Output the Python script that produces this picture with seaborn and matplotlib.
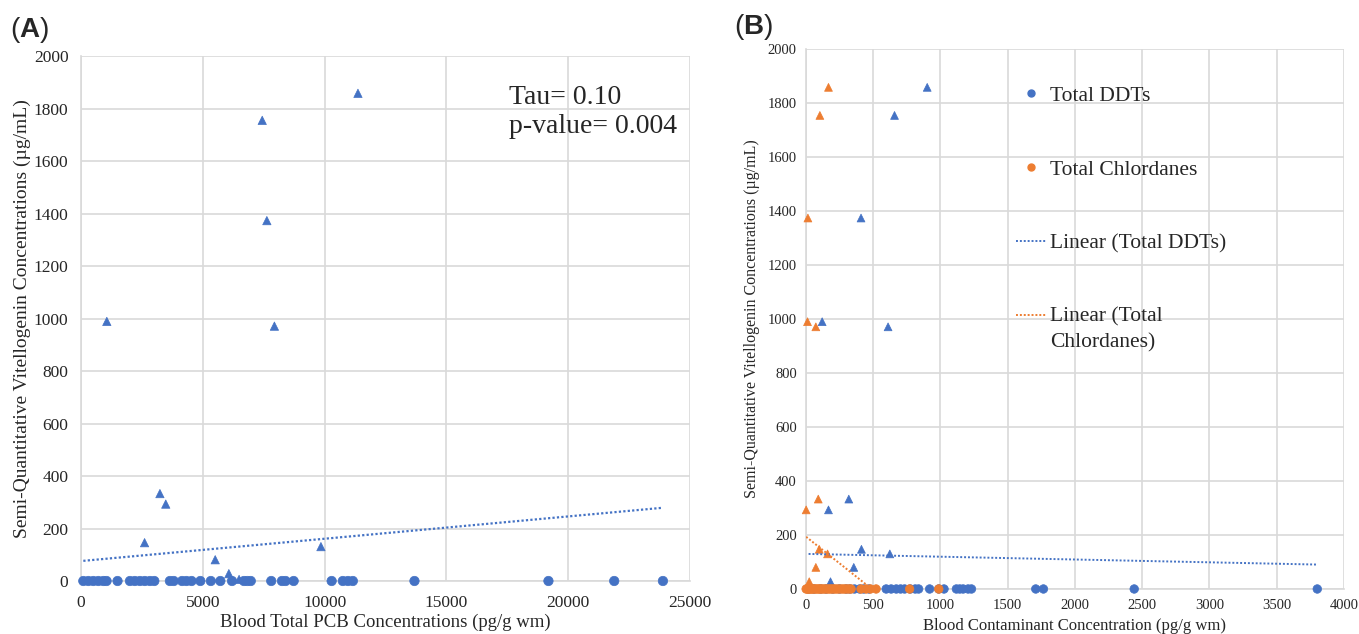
import matplotlib

matplotlib.use("Agg")

import matplotlib.pyplot as plt
import pandas as pd
import seaborn as sns
from matplotlib.legend_handler import HandlerLine2D
from matplotlib.lines import Line2D

# Panel A: blood total PCB vs semi-quantitative vitellogenin
pcb_detect_x = [1060, 2610, 3240, 3480, 5510, 6070, 6490, 7440, 7630, 7940, 9850, 11370]
pcb_detect_y = [989, 146, 333, 293, 81, 28, 6, 1755, 1373, 971, 131, 1858]
pcb_zero_x = [95, 300, 505, 710, 915, 1050, 1500, 2010, 2210, 2420, 2620, 2830,
              3010, 3650, 3810, 4150, 4330, 4540, 4900, 5330, 5720, 6200, 6690,
              6830, 6970, 7810, 8250, 8400, 8730, 10290, 10750, 10960, 11160,
              13690, 19190, 21890, 23890]
pcb_trend = [76, 0.0085]  # intercept, slope (Excel linear trendline)

# Panel B: DDTs and chlordanes
vtg_detect_y = [1858, 1754, 1374, 990, 971, 333, 293, 147, 130, 80, 27]
ddt_detect_x = [902, 659, 410, 121, 611, 319, 168, 413, 624, 356, 183]
chl_detect_x = [168, 104, 15, 12, 74, 92, 2, 99, 161, 74, 25]
ddt_zero_x = [20, 60, 110, 150, 200, 250, 300, 327, 361, 400, 430, 470, 597, 634,
              672, 704, 734, 776, 813, 838, 920, 988, 1027, 1119, 1144, 1169, 1206,
              1231, 1709, 1766, 2441, 3802]
chl_zero_x = [2, 10, 20, 30, 40, 50, 62, 75, 88, 100, 112, 125, 140, 155, 170, 185,
              200, 215, 232, 250, 268, 285, 300, 318, 336, 410, 448, 480, 522, 771, 988]
ddt_trend = [130, -0.0104]
chl_trend = [194, -0.396]

BLUE = "#4472C4"
ORANGE = "#ED7D31"
GRID = "#D9D9D9"
SERIF = ["Liberation Serif", "DejaVu Serif"]


class FirstLineHandler(HandlerLine2D):
    """Put the legend line next to the first line of a two-line label."""

    def create_artists(self, legend, orig_handle, xdescent, ydescent, width,
                       height, fontsize, trans):
        artists = super().create_artists(legend, orig_handle, xdescent, ydescent,
                                         width, height, fontsize, trans)
        for art in artists:
            art.set_ydata([y + 0.68 * fontsize for y in art.get_ydata()])
        return artists


def points(detect_x, detect_y, zero_x):
    return pd.DataFrame({
        "x": list(detect_x) + list(zero_x),
        "y": list(detect_y) + [0] * len(zero_x),
        "kind": ["detected"] * len(detect_x) + ["zero"] * len(zero_x),
    })


def trend(coef, xs):
    lo, hi = min(xs), max(xs)
    return pd.DataFrame({"x": [lo, hi], "y": [coef[0] + coef[1] * lo, coef[0] + coef[1] * hi]})


def style_axes(ax, tick_size, xpad, ypad):
    for side in ["top", "right"]:
        ax.spines[side].set_visible(False)
    for side in ["left", "bottom"]:
        ax.spines[side].set_color(GRID)
        ax.spines[side].set_linewidth(1.2)
    ax.grid(True, color=GRID, linewidth=1.2)
    ax.tick_params(length=0, labelsize=tick_size)
    ax.tick_params(axis="x", pad=xpad)
    ax.tick_params(axis="y", pad=ypad)
    for lab in ax.get_xticklabels() + ax.get_yticklabels():
        lab.set_family(SERIF)


def main() -> None:
    sns.set_style("white")
    plt.rcParams["font.family"] = SERIF
    plt.rcParams["mathtext.fontset"] = "custom"
    plt.rcParams["mathtext.rm"] = "Liberation Sans"
    plt.rcParams["mathtext.bf"] = "Liberation Sans:bold"

    fig = plt.figure(figsize=(13.59, 6.34), dpi=100)
    ax_a = fig.add_axes([0.0596, 0.0836, 0.4481, 0.828])
    ax_b = fig.add_axes([0.593, 0.071, 0.3959, 0.8517])
    markers = {"detected": "^", "zero": "o"}
    sizes = {"detected": 36, "zero": 46}

    # ----- Panel A -----
    df_a = points(pcb_detect_x, pcb_detect_y, pcb_zero_x)
    sns.scatterplot(data=df_a, x="x", y="y", style="kind", markers=markers,
                    size="kind", sizes=sizes, color=BLUE, edgecolor=BLUE,
                    linewidth=0.5, legend=False, ax=ax_a, clip_on=False, zorder=3)
    tr_a = trend(pcb_trend, df_a["x"])
    sns.lineplot(data=tr_a, x="x", y="y", color=BLUE, linestyle=(0, (1, 1)),
                 linewidth=1.6, ax=ax_a, zorder=2)
    ax_a.set_xlim(0, 25000)
    ax_a.set_ylim(0, 2000)
    ax_a.set_xticks(range(0, 25001, 5000))
    ax_a.set_yticks(range(0, 2001, 200))
    style_axes(ax_a, 12.5, 10, 9)
    ax_a.set_xlabel("Blood Total PCB Concentrations (pg/g wm)", fontsize=13.5, labelpad=2)
    ax_a.set_ylabel("Semi-Quantitative Vitellogenin Concentrations (µg/mL)",
                    fontsize=14)
    ax_a.yaxis.set_label_coords(-0.082, 0.5)
    ax_a.text(0.703, 0.945, "Tau= 0.10\np-value= 0.004", transform=ax_a.transAxes,
              fontsize=20, va="top", ha="left", linespacing=1.22)

    # ----- Panel B -----
    df_ddt = points(ddt_detect_x, vtg_detect_y, ddt_zero_x)
    df_chl = points(chl_detect_x, vtg_detect_y, chl_zero_x)
    sizes_b = {"detected": 32, "zero": 38}
    sns.scatterplot(data=df_ddt, x="x", y="y", style="kind", markers=markers,
                    size="kind", sizes=sizes_b, color=BLUE, edgecolor=BLUE,
                    linewidth=0.5, legend=False, ax=ax_b, clip_on=False, zorder=3)
    sns.scatterplot(data=df_chl, x="x", y="y", style="kind", markers=markers,
                    size="kind", sizes=sizes_b, color=ORANGE, edgecolor=ORANGE,
                    linewidth=0.5, legend=False, ax=ax_b, clip_on=False, zorder=4)
    sns.lineplot(data=trend(ddt_trend, df_ddt["x"]), x="x", y="y", color=BLUE,
                 linestyle=(0, (1, 1)), linewidth=1.4, ax=ax_b, zorder=5)
    sns.lineplot(data=trend(chl_trend, df_chl["x"]), x="x", y="y", color=ORANGE,
                 linestyle=(0, (1, 1)), linewidth=1.4, ax=ax_b, zorder=5)
    ax_b.set_xlim(0, 4000)
    ax_b.set_ylim(0, 2000)
    ax_b.set_xticks(range(0, 4001, 500))
    ax_b.set_yticks(range(0, 2001, 200))
    style_axes(ax_b, 10.5, 7.5, 6.5)
    ax_b.set_xlabel("Blood Contaminant Concentration (pg/g wm)", fontsize=12, labelpad=4)
    ax_b.set_ylabel("Semi-Quantitative Vitellogenin Concentrations (µg/mL)",
                    fontsize=11.5)
    ax_b.yaxis.set_label_coords(-0.0855, 0.5)

    handles = [
        Line2D([], [], marker="o", ls="", color=BLUE, markersize=5),
        Line2D([], [], marker="o", ls="", color=ORANGE, markersize=5),
        Line2D([], [], ls=(0, (1, 1)), color=BLUE, lw=1.4),
        Line2D([], [], ls=(0, (1, 1)), color=ORANGE, lw=1.4),
    ]
    labels = ["Total DDTs", "Total Chlordanes", "Linear (Total DDTs)",
              "Linear (Total\nChlordanes)"]
    leg = ax_b.legend(handles, labels, loc="upper left", bbox_to_anchor=(0.375, 0.948),
                      frameon=False, fontsize=15.5, labelspacing=2.5, handlelength=1.4,
                      handletextpad=0.15, borderaxespad=0,
                      handler_map={handles[3]: FirstLineHandler()})
    for t in leg.get_texts():
        t.set_linespacing(1.45)

    fig.text(0.007, 0.952, r"($\mathbf{A}$)", fontsize=20, va="center",
             family="Liberation Sans")
    fig.text(0.540, 0.958, r"($\mathbf{B}$)", fontsize=20, va="center",
             family="Liberation Sans")

    fig.savefig("out.png", dpi=100)


if __name__ == "__main__":
    main()
